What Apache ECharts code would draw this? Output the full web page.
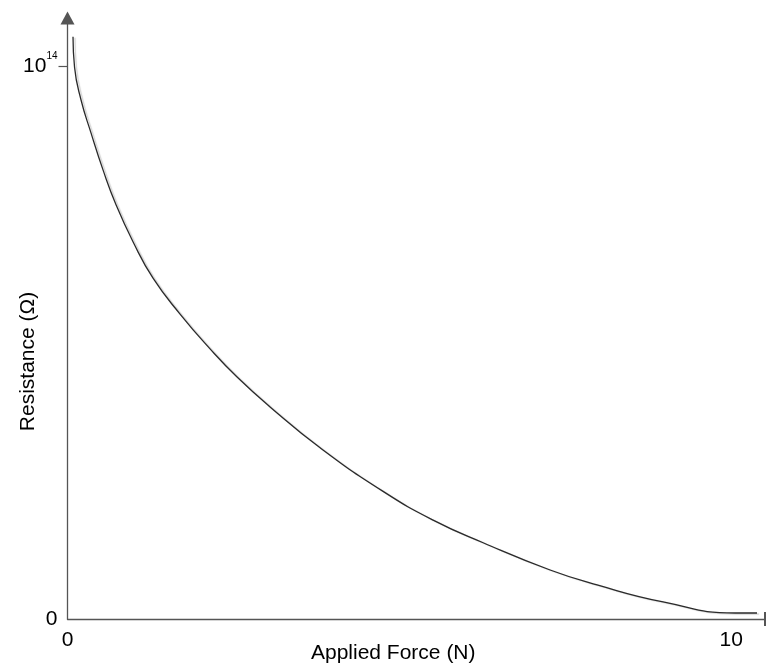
<!DOCTYPE html>
<html>
<head>
<meta charset="utf-8">
<script src="https://cdn.jsdelivr.net/npm/echarts@6/dist/echarts.min.js"></script>
<style>
  html, body { margin: 0; padding: 0; background: #fff; }
  #chart { width: 766px; height: 668px; }
</style>
</head>
<body>
<div id="chart"></div>
<script>
// force (N) and resistance (ohm)
var forceN = [0.083, 0.106, 0.203, 0.354, 0.535, 0.731, 0.987, 1.289, 1.696, 2.148, 2.555,
  3.052, 3.806, 4.755, 5.509, 6.263, 7.272, 7.980, 8.975, 10.06, 10.39];
var resistance = [1.054e14, 0.999e14, 0.940e14, 0.880e14, 0.813e14, 0.750e14, 0.683e14, 0.617e14,
  0.552e14, 0.489e14, 0.438e14, 0.384e14, 0.310e14, 0.231e14, 0.179e14, 0.138e14, 0.0887e14,
  0.0616e14, 0.0308e14, 0.0109e14, 0.0109e14];
var xTicks = [0, 10];
var yTicks = [0, 1e14];

var chart = echarts.init(document.getElementById('chart'));

var pts = forceN.map(function (f, i) { return [f, resistance[i]]; });

var axisColor = '#555';

var option = {
  backgroundColor: '#fff',
  animation: false,
  textStyle: { fontFamily: 'Liberation Sans, Arial, sans-serif' },
  grid: { left: 67.5, right: 1, top: 18, bottom: 49, outerBoundsMode: 'none', containLabel: false },
  xAxis: {
    type: 'value',
    min: 0,
    max: 10.51,
    name: 'Applied Force (N)',
    nameLocation: 'middle',
    nameGap: 24,
    nameMoveOverlap: false,
    nameTextStyle: { fontSize: 21, color: '#000', padding: [0, 46, 0, 0] },
    axisLine: {
      lineStyle: { color: axisColor, width: 1.3 },
      symbol: ['none', 'rect'],
      symbolSize: [14, 2]
    },
    axisTick: { show: false },
    splitLine: { show: false },
    axisLabel: {
      customValues: xTicks,
      fontSize: 21,
      color: '#000',
      margin: 11,
      formatter: function (v) { return String(v); }
    }
  },
  yAxis: {
    type: 'value',
    min: 0,
    max: 1.088e14,
    name: 'Resistance (Ω)',
    nameLocation: 'middle',
    nameRotate: 90,
    nameGap: 29,
    nameMoveOverlap: false,
    nameTextStyle: { fontSize: 21, color: '#000', padding: [0, 86, 0, 0] },
    axisLine: {
      lineStyle: { color: axisColor, width: 1.3 },
      symbol: ['none', 'triangle'],
      symbolSize: [14, 13]
    },
    axisTick: { customValues: [1e14], length: 9, lineStyle: { color: axisColor, width: 1.2 } },
    splitLine: { show: false },
    axisLabel: {
      customValues: yTicks,
      margin: 10,
      padding: [0, 0, 9, 0],
      formatter: function (v) {
        if (v === 0) return '{b|0}';
        return '{b|10}{s|14}';
      },
      rich: {
        b: { fontSize: 21, lineHeight: 22, color: '#000', padding: [9, 0, 0, 0] },
        s: { fontSize: 10, lineHeight: 11, color: '#000', verticalAlign: 'top' }
      }
    }
  },
  series: [{
    type: 'line',
    data: pts,
    showSymbol: false,
    smooth: 0.5,
    lineStyle: {
      color: '#2a2a2a',
      width: 1.3,
      shadowColor: 'rgba(0,0,0,0.18)',
      shadowOffsetX: 2,
      shadowOffsetY: 1,
      shadowBlur: 1
    }
  }]
};

chart.setOption(option);
</script>
</body>
</html>
